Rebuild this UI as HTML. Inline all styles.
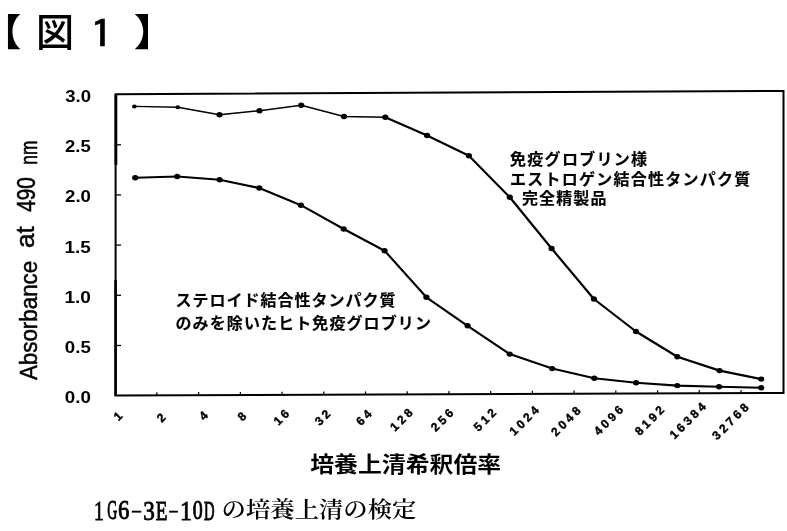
<!DOCTYPE html>
<html><head><meta charset="utf-8"><style>
html,body{margin:0;padding:0;background:#fff;}
body{width:787px;height:531px;overflow:hidden;}
svg{display:block;}
text{fill:#000;}
.xl{font-family:"Liberation Sans",sans-serif;font-size:12px;font-weight:bold;stroke:#000;stroke-width:0.4px;}
.jp{font-family:"Liberation Sans","Noto Sans CJK JP",sans-serif;font-weight:700;stroke:#000;stroke-width:0.15px;}
</style></head><body>
<svg width="787" height="531" viewBox="0 0 787 531">
<text transform="translate(-18.07,45.55) scale(0.3935,0.3723)" font-size="100" font-family="'Liberation Sans','Noto Sans CJK JP',sans-serif" font-weight="700">【</text>
<text transform="translate(36.05,46.19) scale(0.3810,0.3899)" font-size="100" font-family="'Liberation Sans','Noto Sans CJK JP',sans-serif" font-weight="500">図</text>
<text transform="translate(89.43,47.84) scale(0.4895,0.3887)" font-size="100" font-family="IPAGothic,sans-serif" font-weight="400" stroke="#000" stroke-width="1.366">1</text>
<text transform="translate(133.64,45.55) scale(0.4194,0.3723)" font-size="100" font-family="'Liberation Sans','Noto Sans CJK JP',sans-serif" font-weight="700">】</text>
<text transform="translate(36.50,380.05) rotate(-90) scale(0.2234,0.2459)" font-size="100" font-family="'Liberation Sans',sans-serif" font-weight="400" stroke="#000" stroke-width="2.130">Absorbance</text>
<text transform="translate(34.48,248.00) rotate(-90) scale(0.2620,0.2662)" font-size="100" font-family="'Liberation Sans',sans-serif" font-weight="400" stroke="#000" stroke-width="1.893">at</text>
<text transform="translate(35.09,211.86) rotate(-90) scale(0.2075,0.2606)" font-size="100" font-family="'Liberation Sans',sans-serif" font-weight="400" stroke="#000" stroke-width="2.137">490</text>
<text transform="translate(36.65,164.65) rotate(-90) scale(0.1720,0.2481)" font-size="100" font-family="'Liberation Sans',sans-serif" font-weight="400" stroke="#000" stroke-width="2.380">nm</text>
<text transform="translate(65.23,102.03) scale(0.1850,0.1662)" font-size="100" font-family="'Liberation Sans',sans-serif" font-weight="700">3.0</text>
<text transform="translate(65.05,152.23) scale(0.1850,0.1662)" font-size="100" font-family="'Liberation Sans',sans-serif" font-weight="700">2.5</text>
<text transform="translate(65.04,202.43) scale(0.1864,0.1662)" font-size="100" font-family="'Liberation Sans',sans-serif" font-weight="700">2.0</text>
<text transform="translate(64.46,252.63) scale(0.1892,0.1686)" font-size="100" font-family="'Liberation Sans',sans-serif" font-weight="700">1.5</text>
<text transform="translate(64.46,302.83) scale(0.1907,0.1662)" font-size="100" font-family="'Liberation Sans',sans-serif" font-weight="700">1.0</text>
<text transform="translate(64.85,353.03) scale(0.1864,0.1662)" font-size="100" font-family="'Liberation Sans',sans-serif" font-weight="700">0.5</text>
<text transform="translate(64.85,403.23) scale(0.1878,0.1662)" font-size="100" font-family="'Liberation Sans',sans-serif" font-weight="700">0.0</text>
<polygon points="115.6,94.3 783.5,91.0 783.5,392.9 115.6,395.6" fill="none" stroke="#000" stroke-width="2.0"/>
<line x1="115.9" y1="94" x2="115.9" y2="165" stroke="#000" stroke-width="2.8"/>
<line x1="115.6" y1="280" x2="115.6" y2="396" stroke="#000" stroke-width="2.6"/>
<line x1="115.6" y1="144.8" x2="121" y2="144.8" stroke="#000" stroke-width="1.3"/>
<line x1="115.6" y1="194.9" x2="121" y2="194.9" stroke="#000" stroke-width="1.3"/>
<line x1="115.6" y1="245.1" x2="121" y2="245.1" stroke="#000" stroke-width="1.3"/>
<line x1="115.6" y1="295.3" x2="121" y2="295.3" stroke="#000" stroke-width="1.3"/>
<line x1="115.6" y1="345.5" x2="121" y2="345.5" stroke="#000" stroke-width="1.3"/>
<line x1="156.9" y1="395.4" x2="156.9" y2="392.2" stroke="#000" stroke-width="1.2"/>
<line x1="198.6" y1="395.3" x2="198.6" y2="392.1" stroke="#000" stroke-width="1.2"/>
<line x1="240.4" y1="395.1" x2="240.4" y2="391.9" stroke="#000" stroke-width="1.2"/>
<line x1="282.1" y1="394.9" x2="282.1" y2="391.7" stroke="#000" stroke-width="1.2"/>
<line x1="323.8" y1="394.8" x2="323.8" y2="391.6" stroke="#000" stroke-width="1.2"/>
<line x1="365.5" y1="394.6" x2="365.5" y2="391.4" stroke="#000" stroke-width="1.2"/>
<line x1="407.2" y1="394.4" x2="407.2" y2="391.2" stroke="#000" stroke-width="1.2"/>
<line x1="449.0" y1="394.3" x2="449.0" y2="391.1" stroke="#000" stroke-width="1.2"/>
<line x1="490.7" y1="394.1" x2="490.7" y2="390.9" stroke="#000" stroke-width="1.2"/>
<line x1="532.4" y1="393.9" x2="532.4" y2="390.7" stroke="#000" stroke-width="1.2"/>
<line x1="574.1" y1="393.7" x2="574.1" y2="390.5" stroke="#000" stroke-width="1.2"/>
<line x1="615.8" y1="393.6" x2="615.8" y2="390.4" stroke="#000" stroke-width="1.2"/>
<line x1="657.6" y1="393.4" x2="657.6" y2="390.2" stroke="#000" stroke-width="1.2"/>
<line x1="699.3" y1="393.2" x2="699.3" y2="390.0" stroke="#000" stroke-width="1.2"/>
<line x1="741.0" y1="393.1" x2="741.0" y2="389.9" stroke="#000" stroke-width="1.2"/>
<polyline points="134.4,106.4 177.8,107.2 219.5,114.8 259.5,110.7 301.2,105.2 344.0,116.5 385.3,117.3" fill="none" stroke="#000" stroke-width="1.4" stroke-linejoin="round"/>
<polyline points="385.3,117.3 427.1,135.5 468.9,155.7 509.8,197.3 551.6,248.5 593.9,299.0 636.0,331.5 677.3,356.7 719.6,370.6 761.3,379.1" fill="none" stroke="#000" stroke-width="2.2" stroke-linejoin="round"/>
<polyline points="135.2,177.8 177.2,176.5 219.6,179.8 259.3,188.0 300.9,205.2 343.7,229.0 384.6,250.7 426.4,297.3 467.6,325.8 509.7,354.1 552.2,368.6 594.3,378.3 636.1,382.8 677.3,385.6 719.0,386.8 761.3,387.8" fill="none" stroke="#000" stroke-width="2.1" stroke-linejoin="round"/>
<ellipse cx="134.4" cy="106.4" rx="2.4" ry="2.0" fill="#000"/>
<ellipse cx="177.8" cy="107.2" rx="2.4" ry="2.0" fill="#000"/>
<ellipse cx="219.5" cy="114.8" rx="3.1" ry="2.7" fill="#000"/>
<ellipse cx="259.5" cy="110.7" rx="3.1" ry="2.7" fill="#000"/>
<ellipse cx="301.2" cy="105.2" rx="3.1" ry="2.7" fill="#000"/>
<ellipse cx="344" cy="116.5" rx="3.1" ry="2.7" fill="#000"/>
<ellipse cx="385.3" cy="117.3" rx="3.1" ry="2.7" fill="#000"/>
<ellipse cx="427.1" cy="135.5" rx="3.1" ry="2.7" fill="#000"/>
<ellipse cx="468.9" cy="155.7" rx="3.1" ry="2.7" fill="#000"/>
<ellipse cx="509.8" cy="197.3" rx="3.1" ry="2.7" fill="#000"/>
<ellipse cx="551.6" cy="248.5" rx="3.1" ry="2.7" fill="#000"/>
<ellipse cx="593.9" cy="299" rx="3.1" ry="2.7" fill="#000"/>
<ellipse cx="636" cy="331.5" rx="3.1" ry="2.7" fill="#000"/>
<ellipse cx="677.3" cy="356.7" rx="3.1" ry="2.7" fill="#000"/>
<ellipse cx="719.6" cy="370.6" rx="3.1" ry="2.7" fill="#000"/>
<ellipse cx="761.3" cy="379.1" rx="3.1" ry="2.7" fill="#000"/>
<ellipse cx="135.2" cy="177.8" rx="3.1" ry="2.7" fill="#000"/>
<ellipse cx="177.2" cy="176.5" rx="3.1" ry="2.7" fill="#000"/>
<ellipse cx="219.6" cy="179.8" rx="3.1" ry="2.7" fill="#000"/>
<ellipse cx="259.3" cy="188" rx="3.1" ry="2.7" fill="#000"/>
<ellipse cx="300.9" cy="205.2" rx="3.1" ry="2.7" fill="#000"/>
<ellipse cx="343.7" cy="229" rx="3.1" ry="2.7" fill="#000"/>
<ellipse cx="384.6" cy="250.7" rx="3.1" ry="2.7" fill="#000"/>
<ellipse cx="426.4" cy="297.3" rx="3.1" ry="2.7" fill="#000"/>
<ellipse cx="467.6" cy="325.8" rx="3.1" ry="2.7" fill="#000"/>
<ellipse cx="509.7" cy="354.1" rx="3.1" ry="2.7" fill="#000"/>
<ellipse cx="552.2" cy="368.6" rx="3.1" ry="2.7" fill="#000"/>
<ellipse cx="594.3" cy="378.3" rx="3.1" ry="2.7" fill="#000"/>
<ellipse cx="636.1" cy="382.8" rx="3.1" ry="2.7" fill="#000"/>
<ellipse cx="677.3" cy="385.6" rx="3.1" ry="2.7" fill="#000"/>
<ellipse cx="719" cy="386.8" rx="3.1" ry="2.7" fill="#000"/>
<ellipse cx="761.3" cy="387.8" rx="3.1" ry="2.7" fill="#000"/>
<text transform="translate(118,416.2) rotate(-45)" x="0" y="4.2" text-anchor="middle" textLength="6.5" lengthAdjust="spacing" class="xl">1</text>
<text transform="translate(161.1,417.6) rotate(-45)" x="0" y="4.2" text-anchor="middle" textLength="6.5" lengthAdjust="spacing" class="xl">2</text>
<text transform="translate(203.5,415.6) rotate(-45)" x="0" y="4.2" text-anchor="middle" textLength="6.5" lengthAdjust="spacing" class="xl">4</text>
<text transform="translate(242,416.3) rotate(-45)" x="0" y="4.2" text-anchor="middle" textLength="6.5" lengthAdjust="spacing" class="xl">8</text>
<text transform="translate(281.3,417.3) rotate(-45)" x="0" y="4.2" text-anchor="middle" textLength="16.3" lengthAdjust="spacing" class="xl">16</text>
<text transform="translate(322.5,417.6) rotate(-45)" x="0" y="4.2" text-anchor="middle" textLength="16.3" lengthAdjust="spacing" class="xl">32</text>
<text transform="translate(363.8,417.6) rotate(-45)" x="0" y="4.2" text-anchor="middle" textLength="16.3" lengthAdjust="spacing" class="xl">64</text>
<text transform="translate(401.35,419.75) rotate(-45)" x="0" y="4.2" text-anchor="middle" textLength="26.1" lengthAdjust="spacing" class="xl">128</text>
<text transform="translate(442.1,420.1) rotate(-45)" x="0" y="4.2" text-anchor="middle" textLength="26.1" lengthAdjust="spacing" class="xl">256</text>
<text transform="translate(484.8,419.75) rotate(-45)" x="0" y="4.2" text-anchor="middle" textLength="26.1" lengthAdjust="spacing" class="xl">512</text>
<text transform="translate(524,420.7) rotate(-45)" x="0" y="4.2" text-anchor="middle" textLength="35.9" lengthAdjust="spacing" class="xl">1024</text>
<text transform="translate(565.75,421.3) rotate(-45)" x="0" y="4.2" text-anchor="middle" textLength="35.9" lengthAdjust="spacing" class="xl">2048</text>
<text transform="translate(608.4,420.3) rotate(-45)" x="0" y="4.2" text-anchor="middle" textLength="35.9" lengthAdjust="spacing" class="xl">4096</text>
<text transform="translate(649.4,420.5) rotate(-45)" x="0" y="4.2" text-anchor="middle" textLength="35.9" lengthAdjust="spacing" class="xl">8192</text>
<text transform="translate(687.6,420.7) rotate(-45)" x="0" y="4.2" text-anchor="middle" textLength="45.7" lengthAdjust="spacing" class="xl">16384</text>
<text transform="translate(730.25,421.4) rotate(-45)" x="0" y="4.2" text-anchor="middle" textLength="45.7" lengthAdjust="spacing" class="xl">32768</text>
<text class="jp" x="510" y="165" font-size="16" letter-spacing="1.3">免疫グロブリン様</text>
<text class="jp" x="510" y="184.5" font-size="16" letter-spacing="1.25">エストロゲン結合性タンパク質</text>
<text class="jp" x="522" y="203.5" font-size="16" letter-spacing="1.1">完全精製品</text>
<text class="jp" x="175.5" y="306" font-size="16" letter-spacing="1.0">ステロイド結合性タンパク質</text>
<text class="jp" x="175.5" y="329" font-size="16" letter-spacing="1.1">のみを除いたヒト免疫グロブリン</text>
<text transform="translate(310.22,472.41) scale(0.2388,0.2105)" font-size="100" font-family="'Liberation Sans','Noto Sans CJK JP',sans-serif" font-weight="700">培養上清希釈倍率</text>
<text transform="translate(93.95,519.90) scale(0.1943,0.2773)" font-size="100" font-family="'Liberation Serif',serif" font-weight="400" stroke="#000" stroke-width="3.393">1</text>
<text transform="translate(107.15,519.35) scale(0.1385,0.2731)" font-size="100" font-family="'Liberation Serif',serif" font-weight="400" stroke="#000" stroke-width="3.887">G</text>
<text transform="translate(117.99,519.35) scale(0.2279,0.2731)" font-size="100" font-family="'Liberation Serif',serif" font-weight="400" stroke="#000" stroke-width="3.193">6</text>
<text transform="translate(130.88,515.53) scale(0.3308,0.1714)" font-size="100" font-family="'Liberation Serif',serif" font-weight="400" stroke="#000" stroke-width="3.186">-</text>
<text transform="translate(143.24,519.62) scale(0.2317,0.2773)" font-size="100" font-family="'Liberation Serif',serif" font-weight="400" stroke="#000" stroke-width="3.144">3</text>
<text transform="translate(155.83,519.90) scale(0.1906,0.2815)" font-size="100" font-family="'Liberation Serif',serif" font-weight="400" stroke="#000" stroke-width="3.389">E</text>
<text transform="translate(168.40,515.53) scale(0.3000,0.1714)" font-size="100" font-family="'Liberation Serif',serif" font-weight="400" stroke="#000" stroke-width="3.394">-</text>
<text transform="translate(180.07,519.90) scale(0.2371,0.2773)" font-size="100" font-family="'Liberation Serif',serif" font-weight="400" stroke="#000" stroke-width="3.110">1</text>
<text transform="translate(192.80,519.35) scale(0.2000,0.2731)" font-size="100" font-family="'Liberation Serif',serif" font-weight="400" stroke="#000" stroke-width="3.382">0</text>
<text transform="translate(204.06,519.90) scale(0.1462,0.2815)" font-size="100" font-family="'Liberation Serif',serif" font-weight="400" stroke="#000" stroke-width="3.741">D</text>
<text transform="translate(221.61,517.39) scale(0.2435,0.2128)" font-size="100" font-family="'Liberation Serif','Noto Serif CJK JP',serif" font-weight="600">の培養上清の検定</text>
</svg>
</body></html>
